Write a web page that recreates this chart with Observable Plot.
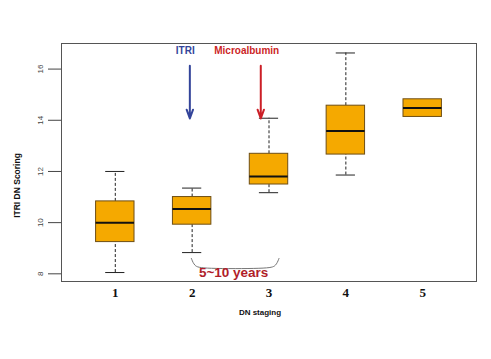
<!DOCTYPE html>
<html>
<head>
<meta charset="utf-8">
<script src="https://cdn.jsdelivr.net/npm/d3@7"></script>
<script src="https://cdn.jsdelivr.net/npm/@observablehq/plot@0.6"></script>
<style>
  html, body { margin: 0; padding: 0; background: #fff; }
  #chart svg { display: block; }
</style>
</head>
<body>
<div id="chart"></div>
<script>
// ---- data ----
const stages      = [1, 2, 3, 4, 5];
const whiskerLow  = [8.05, 8.83, 11.17, 11.86, 14.13];
const q1          = [9.24, 9.92, 11.49, 12.66, 14.13];
const median      = [10.0, 10.53, 11.80, 13.58, 14.48];
const q3          = [10.83, 11.00, 12.69, 14.57, 14.82];
const whiskerHigh = [12.00, 11.35, 14.08, 16.63, 14.82];
const yTicks = [8, 10, 12, 14, 16];
const xTickLabels = ["1", "2", "3", "4", "5"];

// annotations (data units)
const annLabels = ["ITRI", "Microalbumin"];
const annX      = [1.91, 2.71];
const annLabelY = [16.7, 16.72];
const arrowX    = [1.97, 2.893];
const arrowTop  = [16.13, 16.13];
const arrowBot  = [14.07, 14.07];
const annColors = ["#33449a", "#cc1f27"];
const braceX = [1.99, 2.03, 2.12, 3.0, 3.09, 3.13];
const braceY = [8.6, 8.3, 8.2, 8.2, 8.3, 8.6];
const periodLabel = "5~10 years";
const periodX = 2.54, periodY = 8.03;

const boxes = stages.map((s, i) => ({
  s, lo: whiskerLow[i], q1: q1[i], med: median[i], q3: q3[i], hi: whiskerHigh[i]
}));
const upper = boxes.filter(d => d.hi > d.q3);
const lower = boxes.filter(d => d.lo < d.q1);
const ann = annLabels.map((t, i) => ({
  t, lx: annX[i], ly: annLabelY[i], ax: arrowX[i], a1: arrowTop[i], a2: arrowBot[i], c: annColors[i]
}));
const brace = braceX.map((x, i) => ({x, y: braceY[i]}));

const sans = "'Liberation Sans', Arial, sans-serif";
const serif = "'Liberation Serif', 'Times New Roman', serif";

const chart = Plot.plot({
  width: 491,
  height: 359,
  marginLeft: 61,
  marginRight: 15,
  marginTop: 43,
  marginBottom: 78,
  style: { fontFamily: sans, background: "#fff" },
  x: { type: "linear", domain: [0.3, 5.7], axis: null },
  y: { domain: [7.7, 17], axis: null },
  marks: [
    // y axis ticks
    Plot.axisY({ ticks: yTicks, tickSize: 13, tickFormat: () => "", stroke: "#444" }),
    Plot.text(yTicks, {
      y: d => d, frameAnchor: "left", textAnchor: "middle", dx: -21, rotate: -90,
      text: d => String(d), fontSize: 8, fill: "#444"
    }),
    // x labels
    Plot.text(stages, {
      x: d => d, frameAnchor: "bottom", dy: 11, lineAnchor: "middle",
      text: (d, i) => xTickLabels[i], fontSize: 13, fontWeight: "bold",
      fontFamily: serif, fill: "#111"
    }),
    // axis titles
    Plot.text([0], {
      frameAnchor: "bottom", dy: 31, dx: -9, lineAnchor: "middle",
      text: () => "DN staging", fontSize: 8, fontWeight: "bold", fill: "#111"
    }),
    Plot.text([0], {
      frameAnchor: "left", textAnchor: "middle", dx: -44, dy: 23, rotate: -90, lineAnchor: "middle",
      text: () => "ITRI DN Scoring", fontSize: 8.5, fontWeight: "bold", fill: "#111"
    }),
    // whiskers
    Plot.ruleX(upper, { x: "s", y1: "q3", y2: "hi", stroke: "#222", strokeDasharray: "3,2" }),
    Plot.ruleX(lower, { x: "s", y1: "lo", y2: "q1", stroke: "#222", strokeDasharray: "3,2" }),
    Plot.ruleY(upper, { y: "hi", x1: d => d.s - 0.125, x2: d => d.s + 0.125, stroke: "#222" }),
    Plot.ruleY(lower, { y: "lo", x1: d => d.s - 0.125, x2: d => d.s + 0.125, stroke: "#222" }),
    // boxes
    Plot.rect(boxes, {
      x1: d => d.s - 0.25, x2: d => d.s + 0.25, y1: "q1", y2: "q3",
      fill: "#f5a900", stroke: "#6e4e14", strokeWidth: 1
    }),
    Plot.ruleY(boxes, { y: "med", x1: d => d.s - 0.25, x2: d => d.s + 0.25, stroke: "#111", strokeWidth: 2 }),
    // annotations
    Plot.text(ann, {
      x: "lx", y: "ly", text: "t", fill: "c", fontWeight: "bold", fontSize: 10
    }),
    Plot.arrow(ann, {
      x1: "ax", x2: "ax", y1: "a1", y2: "a2", stroke: "c", strokeWidth: 2,
      headLength: 7, headAngle: 40
    }),
    Plot.line(brace, { x: "x", y: "y", curve: "basis", stroke: "#777", strokeWidth: 1 }),
    Plot.text([0], {
      x: () => periodX, y: () => periodY, text: () => periodLabel,
      fill: "#b01e2a", fontWeight: "bold", fontSize: 13.5, fontFamily: "'Liberation Sans Narrow', " + sans
    }),
    // frame
    Plot.frame({ stroke: "#555" })
  ]
});
document.getElementById("chart").append(chart);
</script>
</body>
</html>
